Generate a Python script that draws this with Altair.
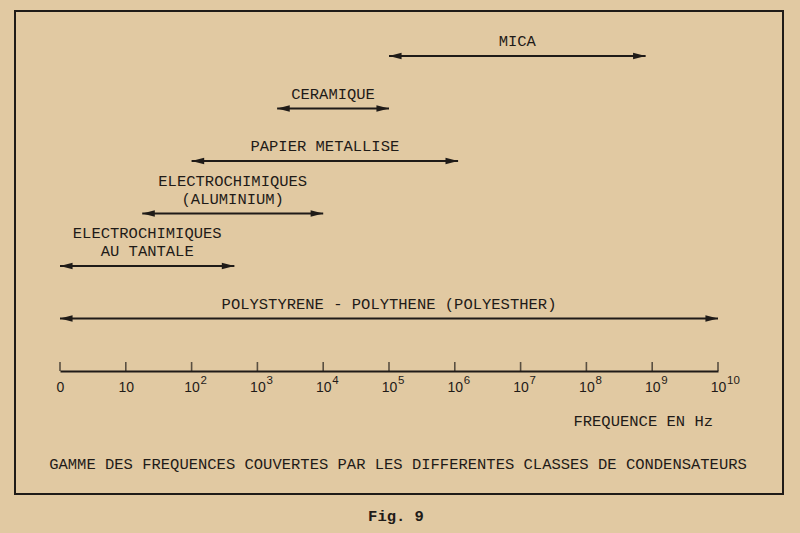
import json
import altair as alt
import pandas as pd

# ---- data (x in decades: 0 -> "0", 1 -> 10, ... 10 -> 10^10)
names = [
    "MICA",
    "CERAMIQUE",
    "PAPIER METALLISE",
    "ELECTROCHIMIQUES\n(ALUMINIUM)",
    "ELECTROCHIMIQUES\nAU TANTALE",
    "POLYSTYRENE - POLYTHENE (POLYESTHER)",
]
low = [5.0, 3.3, 2.0, 1.25, 0.0, 0.0]
high = [8.9, 5.0, 6.05, 4.0, 2.65, 10.0]
rows = [0, 1, 2, 3, 4, 5]

tick_pos = list(range(11))
tick_base = ["0", "10", "10", "10", "10", "10", "10", "10", "10", "10", "10"]
tick_exp = ["", "", "2", "3", "4", "5", "6", "7", "8", "9", "10"]
axis_row = 6

axis_title = "FREQUENCE EN Hz"
caption = "GAMME DES FREQUENCES COUVERTES PAR LES DIFFERENTES CLASSES DE CONDENSATEURS"
fig_label = "Fig. 9"

INK = "#1f1b18"
BG = "#e1c9a2"
MONO = "Liberation Mono"
SANS = "Liberation Sans"

split = [n.split("\n") for n in names]
df = pd.DataFrame({
    "name": names,
    "last_line": [s[-1] for s in split],
    "first_line": [s[0] if len(s) > 1 else "" for s in split],
    "low": low, "high": high, "row": rows,
})
ticks_df = pd.DataFrame({
    "pos": tick_pos, "exp": tick_exp, "row": [axis_row] * len(tick_pos)
})

xs = alt.Scale(domain=[0, 10], range=[45, 703], nice=False, zero=False)
ys = alt.Scale(domain=[0, 6], range=[45, 360], nice=False, zero=False)

label_expr = json.dumps(tick_base) + "[datum.value]"

base = alt.Chart(df)

lines = base.mark_rule(color=INK, strokeWidth=2).encode(
    x=alt.X(
        "low:Q",
        scale=xs,
        axis=alt.Axis(
            values=tick_pos,
            labelExpr=label_expr,
            ticks=False,
            tickSize=0,
            grid=False,
            title=None,
            domainColor=INK,
            domainWidth=2,
            labelFont=SANS,
            labelFontSize=14,
            labelColor=INK,
            labelPadding=9,
            labelFlush=False,
            labelOverlap=False,
            offset=-123,
        ),
    ),
    x2="high:Q",
    y=alt.Y("row:Q", scale=ys, axis=None),
)

left_heads = base.mark_point(
    shape="M0,0L2.4,-0.6L2.4,0.6Z", filled=True, color=INK, opacity=1, size=110
).encode(x=alt.X("low:Q", scale=xs), y=alt.Y("row:Q", scale=ys))

right_heads = base.mark_point(
    shape="M0,0L-2.4,-0.6L-2.4,0.6Z", filled=True, color=INK, opacity=1, size=110
).encode(x=alt.X("high:Q", scale=xs), y=alt.Y("row:Q", scale=ys))

lab = base.transform_calculate(mid="(datum.low + datum.high) / 2")
labels_last = lab.mark_text(
    font=MONO, fontSize=15.5, color=INK, align="center", baseline="bottom", dy=-7,
).encode(x=alt.X("mid:Q", scale=xs), y=alt.Y("row:Q", scale=ys), text="last_line:N")
labels_first = lab.mark_text(
    font=MONO, fontSize=15.5, color=INK, align="center", baseline="bottom", dy=-25,
).encode(x=alt.X("mid:Q", scale=xs), y=alt.Y("row:Q", scale=ys), text="first_line:N")

tick_marks = alt.Chart(ticks_df).mark_tick(
    orient="vertical", color=INK, size=9, thickness=1.6, yOffset=-4.5
).encode(x=alt.X("pos:Q", scale=xs), y=alt.Y("row:Q", scale=ys))

exps = alt.Chart(ticks_df).mark_text(
    font=SANS, fontSize=11.5, color=INK, align="left", baseline="alphabetic", dx=9, dy=13
).encode(x=alt.X("pos:Q", scale=xs), y=alt.Y("row:Q", scale=ys), text="exp:N")

freq_title = alt.Chart(pd.DataFrame({"t": [axis_title]})).mark_text(
    font=MONO, fontSize=15.5, color=INK, align="right", baseline="middle"
).encode(x=alt.value(698), y=alt.value(410), text="t:N")

cap = alt.Chart(pd.DataFrame({"t": [caption]})).mark_text(
    font=MONO, fontSize=15.5, color=INK, align="center", baseline="middle"
).encode(x=alt.value(383), y=alt.value(453), text="t:N")

fig = alt.Chart(pd.DataFrame({"t": [fig_label]})).mark_text(
    font=MONO, fontSize=15.5, fontWeight="bold", color=INK, align="center", baseline="middle"
).encode(x=alt.value(381), y=alt.value(505), text="t:N")

chart = (
    alt.layer(lines, left_heads, right_heads, labels_last, labels_first,
              tick_marks, exps, freq_title, cap, fig)
    .properties(
        width=768,
        height=483,
        autosize=alt.AutoSizeParams(type="none"),
        padding={"left": 15, "top": 11, "right": 17, "bottom": 39},
        background=BG,
    )
    .configure_view(stroke=INK, strokeWidth=2, fill=None)
)

chart.save("out.html", embed_options={"renderer": "svg", "actions": False})
